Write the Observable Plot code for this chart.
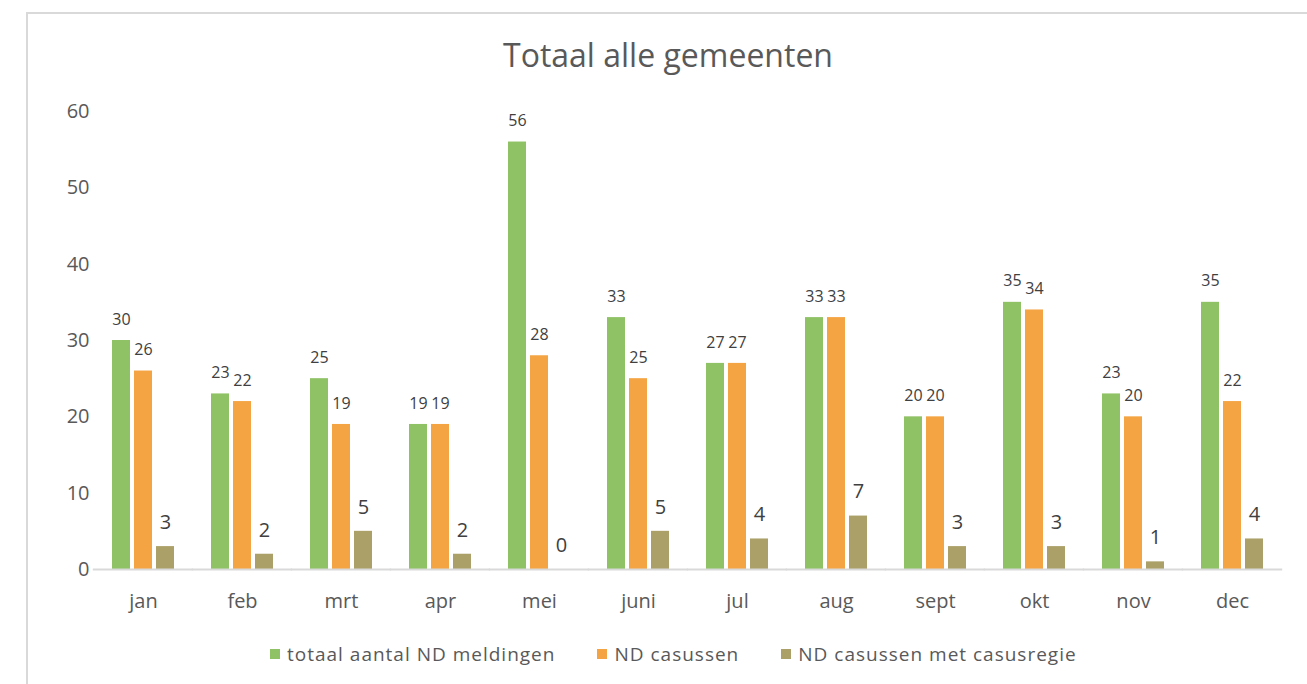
<!DOCTYPE html>
<html>
<head>
<meta charset="utf-8">
<script src="https://cdn.jsdelivr.net/npm/d3@7"></script>
<script src="https://cdn.jsdelivr.net/npm/@observablehq/plot@0.6"></script>
<style>
  html, body { margin: 0; padding: 0; background: #fff; width: 1307px; height: 684px; overflow: hidden; font-family: "Open Sans", sans-serif; }
  #frame { position: absolute; left: 26px; top: 12px; width: 1320px; height: 720px; border-left: 2px solid #d9d9d9; border-top: 2px solid #d9d9d9; box-sizing: border-box; }
  #title { position: absolute; left: 26px; width: 1284px; top: 34px; line-height: 42px; text-align: center; font-size: 32px; color: #595959; }
  #chart { position: absolute; left: 0; top: 80px; }
  #legend { position: absolute; left: 270px; top: 642px; display: flex; align-items: center; font-size: 19px; letter-spacing: 1px; color: #595959; line-height: 24px; }
  .item { display: flex; align-items: center; margin-right: 42px; }
  .sw { width: 10px; height: 10px; margin-right: 7px; }
</style>
</head>
<body>
<div id="frame"></div>
<div id="title">Totaal alle gemeenten</div>
<div id="chart"></div>
<div id="legend"></div>
<script>
const months = ["jan","feb","mrt","apr","mei","juni","jul","aug","sept","okt","nov","dec"];
const totaal = [30,23,25,19,56,33,27,33,20,35,23,35];
const casussen = [26,22,19,19,28,25,27,33,20,34,20,22];
const regie = [3,2,5,2,0,5,4,7,3,3,1,4];
const seriesNames = ["totaal aantal ND meldingen","ND casussen","ND casussen met casusregie"];
const colors = ["#8fc165","#f5a443","#aba068"];
const yTicks = [0,10,20,30,40,50,60];

const seriesValues = [totaal, casussen, regie];
const data = [];
months.forEach((m, i) => {
  seriesNames.forEach((s, j) => data.push({month: m, series: s, value: seriesValues[j][i]}));
});
const small = data.filter(d => d.series !== seriesNames[2]);
const big = data.filter(d => d.series === seriesNames[2]);

const fxPadInner = 0.336;
const fxStep = (1307 - 91 - 24) / months.length;
const halfGap = fxStep * fxPadInner / 2 + 0.5;

const chart = Plot.plot({
  width: 1307,
  height: 540,
  marginLeft: 91,
  marginRight: 24,
  marginTop: 31,
  marginBottom: 51,
  style: {fontFamily: "Open Sans", background: "transparent"},
  fx: {domain: months, paddingInner: fxPadInner, paddingOuter: fxPadInner / 2, label: null, axis: null},
  x: {domain: seriesNames, paddingInner: 0.2, paddingOuter: 0.1, axis: null},
  y: {domain: [0, 60], label: null},
  color: {domain: seriesNames, range: colors},
  marks: [
    Plot.barY(data, {fx: "month", x: "series", y: "value", fill: "series"}),
    Plot.ruleY([0], {stroke: "#d9d9d9", strokeWidth: 2, insetLeft: -halfGap, insetRight: -halfGap}),
    Plot.text(small, {fx: "month", x: "series", y: "value", text: d => String(d.value), dy: -21, fontSize: 16, fill: "#404040", lineAnchor: "middle"}),
    Plot.text(big, {fx: "month", x: "series", y: "value", text: d => String(d.value), dy: -24, fontSize: 20, fill: "#404040", lineAnchor: "middle"}),
    Plot.axisY({ticks: yTicks, tickSize: 0, tickPadding: 21, fontSize: 20, fill: "#595959", label: null}),
    Plot.axisFx({anchor: "bottom", tickSize: 0, tickPadding: 24, fontSize: 20, fill: "#595959", label: null})
  ]
});
document.getElementById("chart").appendChild(chart);

const legend = document.getElementById("legend");
seriesNames.forEach((s, i) => {
  const it = document.createElement("div");
  it.className = "item";
  const sw = document.createElement("span");
  sw.className = "sw";
  sw.style.background = colors[i];
  const t = document.createElement("span");
  t.textContent = s;
  it.appendChild(sw); it.appendChild(t);
  legend.appendChild(it);
});
</script>
</body>
</html>
